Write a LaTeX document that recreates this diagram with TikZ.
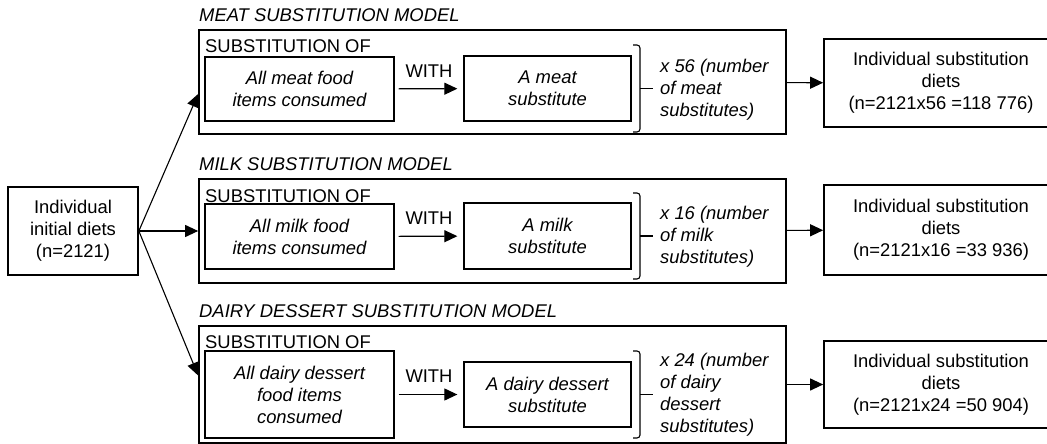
\documentclass[tikz,border=0pt]{standalone}
\usepackage{fontspec}
\setmainfont{Liberation Sans}
\usetikzlibrary{arrows.meta,positioning}

\newcommand{\subbracket}[3]{%
    \draw[line width=1.1pt, rounded corners=3pt] (#1-7, #2) -- (#1, #2) -- (#1, #3) -- (#1-7, #3);
    \draw[line width=1.1pt] (#1, {(#2+#3)/2}) -- (#1+13, {(#2+#3)/2});}

\begin{document}
\begin{tikzpicture}[x=1pt, y=-1pt,
        every node/.style={font=\fontsize{18.4}{22}\selectfont, inner sep=0pt},
        model/.style={draw, line width=1.7pt, minimum width=587pt},
        item/.style={draw, line width=1.3pt, align=center, font=\fontsize{18.4}{22}\selectfont\itshape},
        result/.style={draw, line width=1.7pt, align=center, minimum width=234pt},
        modeltitle/.style={anchor=base west, font=\fontsize{18.4}{22}\selectfont\itshape},
        multiplier/.style={anchor=west, align=left, font=\fontsize{18.4}{22}\selectfont\itshape},
        link/.style={->, line width=1.1pt, >={Triangle[length=13pt,width=12pt]}}]
        \useasboundingbox (0, 0) rectangle (1047, 444);
        \clip (0, 0) rectangle (1047, 444);
        \node[draw, line width=1.7pt, align=center, minimum width=130pt, minimum height=88pt] (init) at (73, 231) {Individual\\initial diets\\(n=2121)};

        \node[model, minimum height=104pt] (meatbox) at (492.5, 82) {};
        \node[modeltitle] (meattitle) at (199, 22) {MEAT SUBSTITUTION MODEL};
        \node[anchor=base west] (meatof) at (205, 53) {SUBSTITUTION OF};
        \node[item, minimum width=189pt, minimum height=64pt] (meatfrom) at (299.5, 89) {All meat food\\items consumed};
        \node[item, minimum width=167pt, minimum height=65pt] (meatto) at (547.5, 88.5) {A meat\\substitute};
        \subbracket{640}{45}{132}
        \node[multiplier] (meatnum) at (660, 89.5) {x 56 (number\\of meat\\substitutes)};
        \node[result, minimum height=88pt] (meatout) at (941, 83) {Individual substitution\\diets\\(n=2121x56 =118 776)};
        \draw[link, shorten <=4pt, shorten >=6pt] (meatfrom) -- node[above=11pt] {WITH} (meatto);
        \draw[link] (meatbox) -- (meatout);

        \node[model, minimum height=104pt] (milkbox) at (492.5, 231) {};
        \node[modeltitle] (milktitle) at (199, 170) {MILK SUBSTITUTION MODEL};
        \node[anchor=base west] (milkof) at (205, 202) {SUBSTITUTION OF};
        \node[item, minimum width=189pt, minimum height=65pt] (milkfrom) at (299.5, 236.5) {All milk food\\items consumed};
        \node[item, minimum width=167pt, minimum height=66pt] (milkto) at (547.5, 236) {A milk\\substitute};
        \subbracket{640}{193}{279}
        \node[multiplier] (milknum) at (660, 236.5) {x 16 (number\\of milk\\substitutes)};
        \node[result, minimum height=90pt] (milkout) at (941, 230) {Individual substitution\\diets\\(n=2121x16 =33 936)};
        \draw[link, shorten <=4pt, shorten >=6pt] (milkfrom) -- node[above=11pt] {WITH} (milkto);
        \draw[link] (milkbox) -- (milkout);

        \node[model, minimum height=117pt] (dessbox) at (492.5, 384.5) {};
        \node[modeltitle] (desstitle) at (199, 317) {DAIRY DESSERT SUBSTITUTION MODEL};
        \node[anchor=base west] (dessof) at (205, 348) {SUBSTITUTION OF};
        \node[item, minimum width=189pt, minimum height=87pt] (dessfrom) at (299.5, 394.5) {All dairy dessert\\food items\\consumed};
        \node[item, minimum width=167pt, minimum height=65pt] (dessto) at (547.5, 394.5) {A dairy dessert\\substitute};
        \subbracket{640}{351}{438}
        \node[multiplier] (dessnum) at (660, 395) {x 24 (number\\of dairy\\dessert\\substitutes)};
        \node[result, minimum height=87pt] (dessout) at (941, 384.5) {Individual substitution\\diets\\(n=2121x24 =50 904)};
        \draw[link, shorten <=4pt, shorten >=6pt] (dessfrom) -- node[above=11pt] {WITH} (dessto);
        \draw[link] (dessbox) -- (dessout);

        \draw[link] (init.east) -- ([yshift=-12pt]meatbox.west);
        \draw[link] (init.east) -- (milkbox.west);
        \draw[link] (init.east) -- ([yshift=9pt]dessbox.west);
    \end{tikzpicture}
\end{document}
